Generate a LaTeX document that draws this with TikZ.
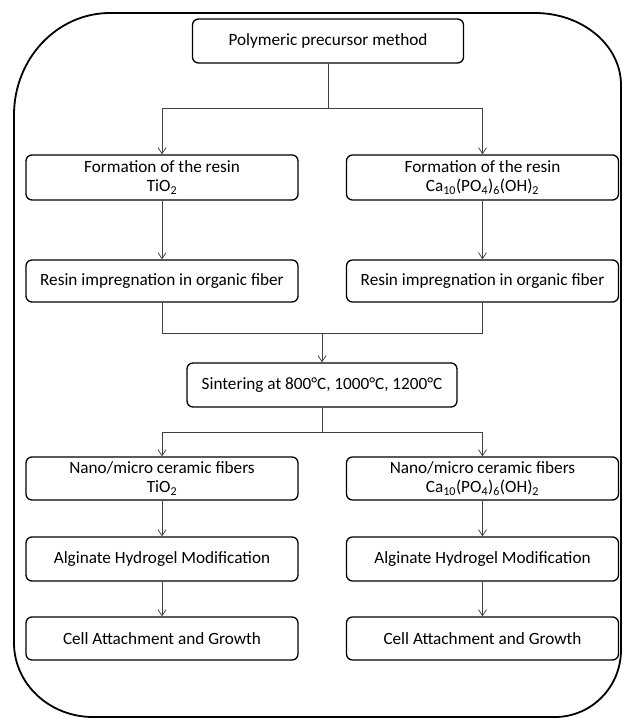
\documentclass[tikz,border=0pt]{standalone}
\usepackage{fontspec}
\setmainfont{Carlito}
\usetikzlibrary{arrows.meta}
\tikzset{
  box/.style={draw=black, line width=1.3pt, rounded corners=6pt, minimum height=#1, align=center, font=\fontsize{17.2}{19}\selectfont, inner sep=0pt},
  box/.default=42pt,
  conn/.style={draw=black!75, line width=0.8pt},
  arr/.style={conn, -{Straight Barb[length=6pt,width=8pt,line width=0.8pt]}},
}
\begin{document}
\begin{tikzpicture}[x=1pt,y=-1pt]
\useasboundingbox (0,0) rectangle (622,718);
% outer frame
\draw[line width=1.8pt] (110,13) -- (535,13)
  .. controls (582.5,13) and (621,45.3) .. (621,85)
  -- (621,650)
  .. controls (621,687) and (591.4,717) .. (555,717)
  -- (93,717)
  .. controls (49.4,717) and (14,683.8) .. (14,643)
  -- (14,115)
  .. controls (14,58.7) and (57,13) .. (110,13) -- cycle;
% nodes
\node[box=44pt, minimum width=271pt] (top) at (328,41) {Polymeric precursor method};
\node[box=45pt, minimum width=272pt] (fl) at (162,177.5) {Formation of the resin\\TiO\textsubscript{2}};
\node[box=45pt, minimum width=272pt] (fr) at (482.5,177.5) {Formation of the resin\\Ca\textsubscript{10}(PO\textsubscript{4})\textsubscript{6}(OH)\textsubscript{2}};
\node[box=42pt, minimum width=272pt] (rl) at (162,281) {Resin impregnation in organic fiber};
\node[box=42pt, minimum width=272pt] (rr) at (482.5,281) {Resin impregnation in organic fiber};
\node[box=44pt, minimum width=270pt] (sin) at (322,385) {Sintering at 800°C, 1000°C, 1200°C};
\node[box=43pt, minimum width=272pt] (nl) at (162,478.5) {Nano/micro ceramic fibers\\TiO\textsubscript{2}};
\node[box=43pt, minimum width=272pt] (nr) at (482.5,478.5) {Nano/micro ceramic fibers\\Ca\textsubscript{10}(PO\textsubscript{4})\textsubscript{6}(OH)\textsubscript{2}};
\node[box=44pt, minimum width=272pt] (al) at (162,559) {Alginate Hydrogel Modification};
\node[box=44pt, minimum width=272pt] (ar) at (482.5,559) {Alginate Hydrogel Modification};
\node[box=43pt, minimum width=272pt] (cl) at (162,638.5) {Cell Attachment and Growth};
\node[box=43pt, minimum width=272pt] (cr) at (482.5,638.5) {Cell Attachment and Growth};
% junction coordinates
\coordinate (j1) at (328,108);
\coordinate (j2) at (322,333);
\coordinate (j3) at (322,432);
% connectors
\draw[conn] (top.south) -- (j1);
\draw[arr] (j1) -| (fl.north);
\draw[arr] (j1) -| (fr.north);
\draw[arr] (fl) -- (rl);
\draw[arr] (fr) -- (rr);
\draw[conn] (rl.south) |- (j2);
\draw[conn] (rr.south) |- (j2);
\draw[arr] (j2) -- (sin.north);
\draw[conn] (sin.south) -- (j3);
\draw[arr] (j3) -| (nl.north);
\draw[arr] (j3) -| (nr.north);
\draw[arr] (nl) -- (al);
\draw[arr] (nr) -- (ar);
\draw[arr] (al) -- (cl);
\draw[arr] (ar) -- (cr);
\end{tikzpicture}
\end{document}
